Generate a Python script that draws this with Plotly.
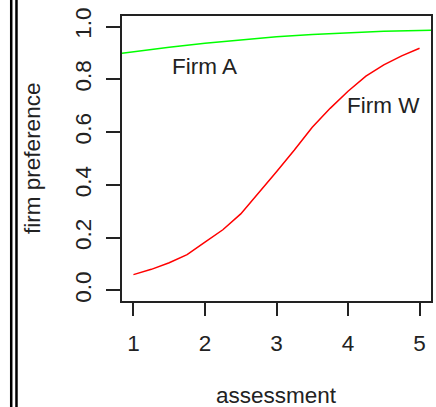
import plotly.graph_objects as go

# Data
firm_a_x = [0.84, 1.0, 1.5, 2.0, 2.5, 3.0, 3.5, 4.0, 4.5, 5.0, 5.16]
firm_a_y = [0.899, 0.905, 0.922, 0.937, 0.950, 0.961, 0.970, 0.977, 0.982, 0.985, 0.986]

firm_w_x = [1.0, 1.25, 1.5, 1.75, 2.0, 2.25, 2.5, 2.75, 3.0, 3.25, 3.5, 3.75, 4.0, 4.25, 4.5, 4.75, 5.0]
firm_w_y = [0.060, 0.080, 0.105, 0.136, 0.183, 0.230, 0.290, 0.368, 0.450, 0.532,
            0.618, 0.690, 0.755, 0.812, 0.855, 0.889, 0.918]

x_ticks = [1, 2, 3, 4, 5]
y_ticks = [0.0, 0.2, 0.4, 0.6, 0.8, 1.0]
y_tick_labels = ["0.0", "0.2", "0.4", "0.6", "0.8", "1.0"]

labels = [("Firm A", 2.0, 0.85), ("Firm W", 4.5, 0.70)]

FONT = "Liberation Sans, Arial, sans-serif"
TXT = "#222222"
FS = 22.5

fig = go.Figure()
fig.add_trace(go.Scatter(x=firm_a_x, y=firm_a_y, mode="lines",
                         line=dict(color="#00ff00", width=1.5), showlegend=False))
fig.add_trace(go.Scatter(x=firm_w_x, y=firm_w_y, mode="lines",
                         line=dict(color="#ff0000", width=1.5), showlegend=False))

annotations = []
for t, x, y in labels:
    annotations.append(dict(text=t, x=x, y=y, xref="x", yref="y", showarrow=False,
                            font=dict(family=FONT, size=FS, color=TXT)))
annotations.append(dict(text="assessment", x=0.5, y=-0.33, xref="paper", yref="paper",
                        showarrow=False, xanchor="center", yanchor="middle",
                        font=dict(family=FONT, size=FS, color=TXT)))
annotations.append(dict(text="firm preference", x=-0.29, y=0.5, xref="paper", yref="paper",
                        showarrow=False, xanchor="center", yanchor="middle", textangle=-90,
                        font=dict(family=FONT, size=FS, color=TXT)))

shapes = [
    dict(type="line", xref="paper", yref="paper", x0=(10.5 - 122) / 311, x1=(10.5 - 122) / 311,
         y0=-0.5, y1=1.2, line=dict(color="black", width=2.5)),
    dict(type="line", xref="paper", yref="paper", x0=(15.8 - 122) / 311, x1=(15.8 - 122) / 311,
         y0=-0.5, y1=1.2, line=dict(color="black", width=2.5)),
]

fig.update_layout(
    width=436, height=407,
    margin=dict(l=122, r=3, t=16, b=106),
    paper_bgcolor="white", plot_bgcolor="white",
    font=dict(family=FONT, size=FS, color=TXT),
    annotations=annotations, shapes=shapes,
    xaxis=dict(range=[0.84, 5.16], tickmode="array", tickvals=x_ticks,
               ticks="outside", ticklen=13, tickwidth=1.5, tickcolor="#222",
               showline=True, linecolor="#222", linewidth=1.5, mirror=True,
               showgrid=False, zeroline=False, ticklabelstandoff=8,
               tickfont=dict(family=FONT, size=FS, color=TXT)),
    yaxis=dict(range=[-0.04, 1.04], tickmode="array", tickvals=y_ticks, ticktext=y_tick_labels,
               ticks="outside", ticklen=14, tickwidth=1.5, tickcolor="#222",
               showline=True, linecolor="#222", linewidth=1.5, mirror=True,
               showgrid=False, zeroline=False, tickangle=-90, ticklabelstandoff=6,
               tickfont=dict(family=FONT, size=FS, color=TXT)),
)

fig.write_html(
    "out.html",
    config={"displayModeBar": False},
    post_script="document.body.style.margin='0';document.body.style.overflow='hidden';",
)
